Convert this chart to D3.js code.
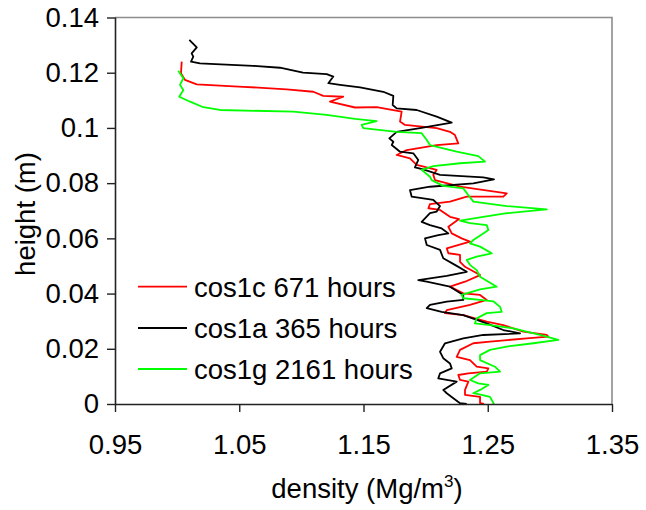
<!DOCTYPE html>
<html>
<head>
<meta charset="utf-8">
<script src="https://cdn.jsdelivr.net/npm/d3@7"></script>
<style>
  body { margin: 0; background: #fff; }
  svg text { font-family: "Liberation Sans", Arial, sans-serif; fill: #000; }
</style>
</head>
<body>
<svg id="chart" width="646" height="510"></svg>
<script>
// Density profiles: [density (Mg/m3), height (m)], listed from the top of the sample down.
const cos1c = [
  [1.0037,0.1240],[1.0031,0.1198],[1.0063,0.1174],[1.0158,0.1158],[1.0533,0.1149],[1.0882,0.1140],
  [1.1096,0.1131],[1.1176,0.1116],[1.1337,0.1113],[1.1230,0.1095],[1.1432,0.1074],[1.1606,0.1075],
  [1.1807,0.1059],[1.1794,0.1023],[1.1834,0.1011],[1.2089,0.0999],[1.2196,0.0986],[1.2236,0.0974],
  [1.2263,0.0944],[1.2089,0.0938],[1.1848,0.0920],[1.1767,0.0902],[1.1874,0.0890],[1.1928,0.0866],
  [1.2089,0.0848],[1.2062,0.0830],[1.2075,0.0811],[1.2277,0.0787],[1.2653,0.0763],[1.2625,0.0751],
  [1.2331,0.0751],[1.2196,0.0733],[1.2035,0.0724],[1.2022,0.0709],[1.2116,0.0703],[1.2196,0.0678],
  [1.2269,0.0670],[1.2183,0.0642],[1.2210,0.0618],[1.2290,0.0600],[1.2357,0.0588],[1.2170,0.0564],
  [1.2183,0.0546],[1.2277,0.0540],[1.2277,0.0515],[1.2317,0.0497],[1.2438,0.0467],[1.2317,0.0443],
  [1.2196,0.0425],[1.2303,0.0401],[1.2438,0.0395],[1.2492,0.0377],[1.2357,0.0359],[1.2170,0.0340],
  [1.2156,0.0329],[1.2303,0.0322],[1.2492,0.0298],[1.2625,0.0286],[1.2786,0.0262],[1.2974,0.0250],
  [1.2987,0.0244],[1.2813,0.0238],[1.2518,0.0226],[1.2384,0.0220],[1.2277,0.0196],[1.2250,0.0171],
  [1.2357,0.0159],[1.2411,0.0135],[1.2505,0.0129],[1.2492,0.0117],[1.2344,0.0111],[1.2263,0.0105],
  [1.2277,0.0087],[1.2344,0.0081],[1.2317,0.0051],[1.2317,0.0033],[1.2438,0.0026],[1.2438,0.0003],
  [1.2470,0.0000]
];

const cos1a = [
  [1.0098,0.1319],[1.0158,0.1292],[1.0117,0.1270],[1.0130,0.1258],[1.0112,0.1240],[1.0184,0.1234],
  [1.0265,0.1232],[1.0611,0.1225],[1.0828,0.1218],[1.1013,0.1200],[1.1204,0.1195],[1.1257,0.1186],
  [1.1217,0.1162],[1.1311,0.1156],[1.1472,0.1147],[1.1659,0.1131],[1.1740,0.1116],[1.1735,0.1083],
  [1.1767,0.1071],[1.1928,0.1065],[1.2089,0.1041],[1.2210,0.1019],[1.1955,0.0999],[1.1767,0.0986],
  [1.1708,0.0962],[1.1740,0.0950],[1.1727,0.0938],[1.1794,0.0914],[1.1901,0.0908],[1.1941,0.0884],
  [1.1914,0.0857],[1.1981,0.0850],[1.2116,0.0830],[1.2464,0.0821],[1.2550,0.0814],[1.2384,0.0799],
  [1.2035,0.0787],[1.1874,0.0775],[1.1888,0.0751],[1.2062,0.0739],[1.2116,0.0717],[1.2089,0.0697],
  [1.2035,0.0691],[1.1968,0.0660],[1.2035,0.0648],[1.2129,0.0636],[1.2183,0.0618],[1.2102,0.0612],
  [1.1995,0.0600],[1.2009,0.0576],[1.2116,0.0558],[1.2142,0.0528],[1.2236,0.0504],[1.2331,0.0479],
  [1.2170,0.0464],[1.1941,0.0449],[1.2009,0.0443],[1.2196,0.0425],[1.2303,0.0395],[1.2303,0.0377],
  [1.2170,0.0371],[1.2035,0.0359],[1.2009,0.0347],[1.2129,0.0334],[1.2303,0.0322],[1.2492,0.0292],
  [1.2625,0.0268],[1.2760,0.0256],[1.2464,0.0250],[1.2303,0.0238],[1.2156,0.0220],[1.2116,0.0189],
  [1.2142,0.0166],[1.2196,0.0147],[1.2210,0.0129],[1.2116,0.0111],[1.2102,0.0093],[1.2250,0.0081],
  [1.2142,0.0051],[1.2170,0.0039],[1.2223,0.0021],[1.2277,0.0003],[1.2331,0.0000]
];

const cos1g = [
  [1.0009,0.1207],[1.0050,0.1180],[1.0023,0.1156],[1.0050,0.1137],[1.0017,0.1113],[1.0104,0.1095],
  [1.0211,0.1075],[1.0345,0.1065],[1.0935,0.1059],[1.1204,0.1047],[1.1432,0.1033],[1.1606,0.1025],
  [1.1485,0.1011],[1.1498,0.0999],[1.1767,0.0986],[1.1968,0.0981],[1.2009,0.0956],[1.2035,0.0938],
  [1.2250,0.0914],[1.2424,0.0898],[1.2478,0.0878],[1.2277,0.0872],[1.2062,0.0862],[1.1968,0.0848],
  [1.2035,0.0823],[1.2049,0.0811],[1.2142,0.0790],[1.2303,0.0781],[1.2343,0.0757],[1.2384,0.0733],
  [1.2653,0.0717],[1.2975,0.0705],[1.2653,0.0691],[1.2464,0.0678],[1.2277,0.0664],[1.2357,0.0655],
  [1.2492,0.0648],[1.2505,0.0630],[1.2464,0.0618],[1.2384,0.0594],[1.2357,0.0582],[1.2438,0.0570],
  [1.2532,0.0546],[1.2411,0.0534],[1.2331,0.0522],[1.2357,0.0504],[1.2411,0.0485],[1.2438,0.0461],
  [1.2572,0.0425],[1.2438,0.0415],[1.2290,0.0395],[1.2303,0.0383],[1.2438,0.0377],[1.2545,0.0372],
  [1.2599,0.0352],[1.2612,0.0334],[1.2492,0.0329],[1.2411,0.0310],[1.2397,0.0292],[1.2518,0.0286],
  [1.2706,0.0274],[1.2813,0.0262],[1.2921,0.0250],[1.3068,0.0232],[1.2867,0.0220],[1.2653,0.0208],
  [1.2518,0.0196],[1.2438,0.0177],[1.2438,0.0159],[1.2558,0.0135],[1.2599,0.0117],[1.2438,0.0111],
  [1.2357,0.0087],[1.2424,0.0075],[1.2505,0.0069],[1.2438,0.0051],[1.2384,0.0039],[1.2451,0.0033],
  [1.2518,0.0026],[1.2550,0.0000]
];

const seriesNames  = ["cos1c 671 hours", "cos1a 365 hours", "cos1g 2161 hours"];
const seriesColors = ["#ff0000", "#000000", "#00ff00"];
const seriesValues = [cos1c, cos1a, cos1g];

const xTicks = [0.95, 1.05, 1.15, 1.25, 1.35];
const yTicks = [0, 0.02, 0.04, 0.06, 0.08, 0.10, 0.12, 0.14];
const xTickLabels = ["0.95", "1.05", "1.15", "1.25", "1.35"];
const yTickLabels = ["0", "0.02", "0.04", "0.06", "0.08", "0.1", "0.12", "0.14"];

(function draw() {
  const svg = d3.select("#chart");
  const plotLeft = 115, plotRight = 612, plotTop = 17.5, plotBottom = 404;
  const fontSize = 27.5;

  const x = d3.scaleLinear().domain([0.95, 1.35]).range([plotLeft, plotRight]);
  const y = d3.scaleLinear().domain([0, 0.14]).range([plotBottom, plotTop]);

  // frame: top and right edges in grey
  svg.append("path")
    .attr("d", `M${plotLeft},${plotTop}H${plotRight}V${plotBottom}`)
    .attr("fill", "none").attr("stroke", "#8c8c8c").attr("stroke-width", 1.6);

  // profiles
  const line = d3.line().x(d => x(d[0])).y(d => y(d[1]));
  seriesValues.forEach((vals, i) => {
    svg.append("path")
      .datum(vals)
      .attr("d", line)
      .attr("fill", "none")
      .attr("stroke", seriesColors[i])
      .attr("stroke-width", 1.8)
      .attr("stroke-linejoin", "round");
  });

  // axes
  const xAxis = d3.axisBottom(x).tickValues(xTicks).tickSize(8).tickPadding(22)
    .tickFormat((d, i) => xTickLabels[i]);
  const yAxis = d3.axisLeft(y).tickValues(yTicks).tickSize(8).tickPadding(8)
    .tickFormat((d, i) => yTickLabels[i]);

  const gx = svg.append("g").attr("transform", `translate(0,${plotBottom})`).call(xAxis);
  const gy = svg.append("g").attr("transform", `translate(${plotLeft},0)`).call(yAxis);
  [gx, gy].forEach(g => {
    g.select(".domain").attr("stroke", "#222").attr("stroke-width", 1.6);
    g.selectAll(".tick line").attr("stroke", "#222").attr("stroke-width", 1.4);
    g.selectAll(".tick text")
      .attr("font-family", "Liberation Sans, Arial, sans-serif")
      .attr("font-size", fontSize).attr("fill", "#000");
  });
  gx.select(".domain").attr("d", `M${plotLeft},0.5H${plotRight}`);
  gy.select(".domain").attr("d", `M0.5,${plotTop}V${plotBottom}`);

  // axis titles
  const xt = svg.append("text")
    .attr("x", 367).attr("y", 498)
    .attr("text-anchor", "middle")
    .attr("font-size", fontSize);
  xt.append("tspan").text("density (Mg/m");
  xt.append("tspan").attr("font-size", 17).attr("dy", -11).text("3");
  xt.append("tspan").attr("dy", 11).text(")");

  svg.append("text")
    .attr("transform", "translate(35,214) rotate(-90)")
    .attr("text-anchor", "middle")
    .attr("font-size", fontSize)
    .text("height (m)");

  // legend
  const legendY = [286.7, 328, 369];
  seriesNames.forEach((name, i) => {
    svg.append("line")
      .attr("x1", 138).attr("x2", 187)
      .attr("y1", legendY[i]).attr("y2", legendY[i])
      .attr("stroke", seriesColors[i]).attr("stroke-width", 1.8);
    svg.append("text")
      .attr("x", 194).attr("y", legendY[i] + 10)
      .attr("font-size", fontSize)
      .text(name);
  });
})();
</script>
</body>
</html>
